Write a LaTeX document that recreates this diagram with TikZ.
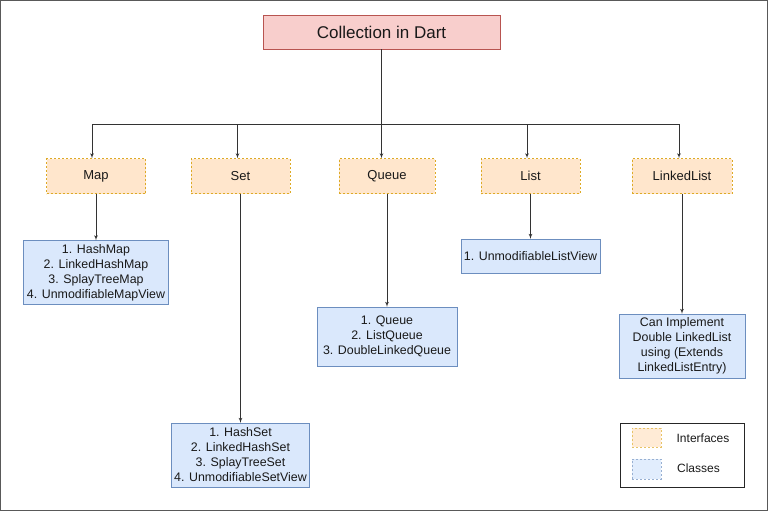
\documentclass[tikz,border=0pt]{standalone}
\usepackage{fontspec}
\setmainfont{Liberation Sans}
\usetikzlibrary{arrows,positioning}
\definecolor{titlefill}{HTML}{F8CECC}
\definecolor{titleline}{HTML}{B85450}
\definecolor{ifill}{HTML}{FFE6CC}
\definecolor{iline}{HTML}{D79B00}
\definecolor{cfill}{HTML}{DAE8FC}
\definecolor{cline}{HTML}{6C8EBF}
\definecolor{wire}{HTML}{333333}
\tikzset{every node/.append style={text=black!90}}
\tikzset{iface/.style={draw=iline!85, fill=ifill, dashed, dash pattern=on 2pt off 2pt,
    line width=0.5pt, minimum width=99pt, minimum height=35pt, inner sep=0pt,
    font=\fontsize{13}{15}\selectfont}}
\tikzset{klass/.style={draw=cline, fill=cfill, align=center, inner sep=0pt,
    font=\fontsize{12.4}{15}\selectfont}}
\tikzset{link/.style={draw=wire, -latex', line width=0.7pt}}
\begin{document}
\begin{tikzpicture}[x=1pt,y=-1pt]
  \useasboundingbox (0,0) rectangle (768,511);
  \draw[gray!70!black, line width=1pt] (0.5,0.5) rectangle (767,510);

  \node[draw=titleline, fill=titlefill, minimum width=237pt, minimum height=34pt,
    font=\fontsize{17}{20}\selectfont] (dart) at (381.5,32) {Collection in Dart};

  \node[iface] (map) at (96,176) {Map};
  \node[iface] (set) at (240.5,176) {Set};
  \node[iface, minimum width=96pt] (queue) at (387,176) {Queue};
  \node[iface] (list) at (530.5,176) {List};
  \node[iface, minimum width=100pt] (linked) at (682,176) {LinkedList};

  \node[klass, minimum width=145pt, minimum height=64pt] (mapcls) at (96,272.5)
    {1. HashMap\\2. LinkedHashMap\\3. SplayTreeMap\\4. UnmodifiableMapView};
  \node[klass, minimum width=138pt, minimum height=64pt] (setcls) at (240.5,455)
    {1. HashSet\\2. LinkedHashSet\\3. SplayTreeSet\\4. UnmodifiableSetView};
  \node[klass, minimum width=140pt, minimum height=59pt] (queuecls) at (387,336.5)
    {1. Queue\\2. ListQueue\\3. DoubleLinkedQueue};
  \node[klass, minimum width=139pt, minimum height=34pt] (listcls) at (530.5,256)
    {1. UnmodifiableListView};
  \node[klass, minimum width=126pt, minimum height=64pt] (linkedcls) at (682,346)
    {Can Implement\\Double LinkedList\\using (Extends\\LinkedListEntry)};

  % bus under the title
  \coordinate (bmap) at (92,124);
  \coordinate (bset) at (237.5,124);
  \coordinate (bqueue) at (dart.south |- bmap);
  \coordinate (blist) at (527,124);
  \coordinate (blinked) at (679,124);
  \draw[draw=wire, line width=0.7pt] (dart.south) -- (bqueue);
  \draw[draw=wire, line width=0.7pt] (bmap) -- (blinked);
  \foreach \b/\n in {bmap/map, bset/set, bqueue/queue, blist/list, blinked/linked}
    \draw[link] (\b) -- (\b |- \n.north);

  \foreach \n in {map, set, queue, list, linked}
    \draw[link] (\n.south) -- (\n.south |- \n cls.north);

  % legend
  \draw[draw=black!85, line width=0.7pt] (620,423) rectangle (744,487);
  \node[draw=iline!60, fill=ifill!80, dashed, dash pattern=on 2pt off 2pt,
    line width=0.5pt, minimum width=29pt, minimum height=19pt] (keyi) at (646.5,437.5) {};
  \node[draw=cline!70, fill=cfill!80, dashed, dash pattern=on 2pt off 2pt,
    line width=0.5pt, minimum width=29pt, minimum height=20pt] (keyc) at (646.5,469) {};
  \node[font=\fontsize{12}{14}\selectfont] (keyitext) at (703,438) {Interfaces};
  \node[font=\fontsize{12}{14}\selectfont] (keyctext) at (698.5,468) {Classes};
\end{tikzpicture}
\end{document}
